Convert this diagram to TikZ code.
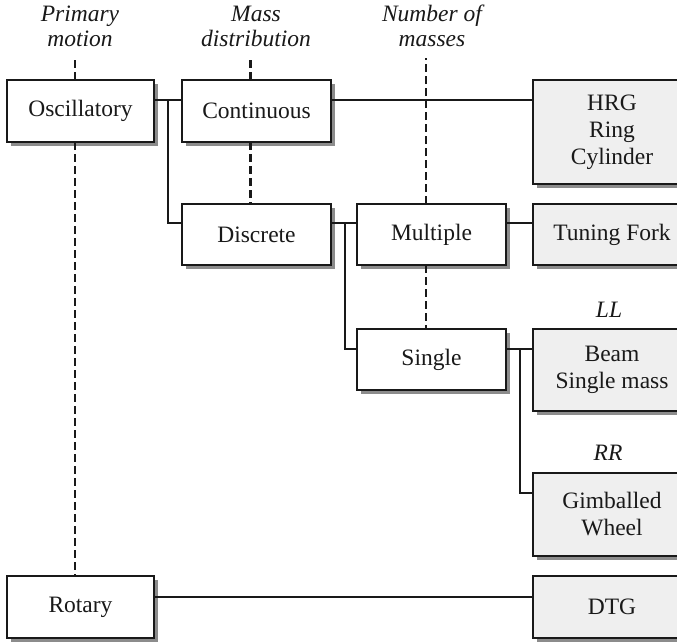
\documentclass[tikz,border=0pt]{standalone}
\usepackage{fontspec}
\setmainfont{Liberation Serif}
\usetikzlibrary{shadows}
\definecolor{boxgray}{RGB}{239,239,239}
\definecolor{shadowgray}{RGB}{140,140,140}
\definecolor{ink}{RGB}{25,25,25}
\begin{document}
\begin{tikzpicture}[x=1pt,y=-1pt,
  box/.style={draw=ink, text=ink, line width=1.4pt, fill=white, anchor=north west, inner sep=0pt, outer sep=0pt,
    align=center, font=\fontsize{23.5}{27}\selectfont,
    general shadow={fill=shadowgray, shadow xshift=4pt, shadow yshift=-4pt}},
  lbox/.style={box, minimum width=147pt, minimum height=62pt},
  mbox/.style={box, minimum width=149pt, minimum height=61pt},
  rbox/.style={box, fill=boxgray, minimum width=158pt},
  conn/.style={draw=ink, line width=1.3pt},
  dl/.style={draw=ink, line width=2.8pt, dash pattern=on 8pt off 4pt},
  title/.style={anchor=base, text=ink, inner sep=0pt, font=\fontsize{23.5}{27}\selectfont\itshape},
]
\useasboundingbox (0,0) rectangle (677,642);
\clip (0,0) rectangle (677,642);

% titles
\node[title] (t1a) at (80,22) {Primary};
\node[title] (t1b) at (80,47) {motion};
\node[title] (t2a) at (256,22) {Mass};
\node[title] (t2b) at (256,47) {distribution};
\node[title] (t3a) at (432,22) {Number of};
\node[title] (t3b) at (432,47) {masses};
\node[title] (ll) at (609,317) {LL};
\node[title] (rr) at (608,460) {RR};

% boxes
\node[lbox] (osc) at (7,80) {Oscillatory};
\node[mbox, minimum height=62pt] (cont) at (182,80) {Continuous};
\node[rbox, minimum height=104pt] (hrg) at (533,80) {HRG\\Ring\\Cylinder};
\node[mbox] (disc) at (182,204) {Discrete};
\node[mbox] (mult) at (357,204) {Multiple};
\node[rbox, minimum height=61pt] (tf) at (533,204) {Tuning Fork};
\node[mbox] (single) at (357,329) {Single};
\node[rbox, minimum height=82pt] (beam) at (533,329) {Beam\\Single mass};
\node[rbox, minimum height=83pt] (gimb) at (533,473) {Gimballed\\Wheel};
\node[lbox] (rot) at (7,576) {Rotary};
\node[rbox, minimum height=62pt] (dtg) at (533,576) {DTG};

% connectors
\draw[conn] ([yshift=-20pt]osc.north east) -- ([yshift=-20pt]cont.north west);
\draw[conn] ([yshift=-20pt]osc.north east) ++(14,0) |- ([yshift=-19pt]disc.north west);
\draw[conn] ([yshift=-20pt]cont.north east) -- ([yshift=-20pt]hrg.north west);
\draw[conn] ([yshift=-19pt]disc.north east) -- ([yshift=-19pt]mult.north west);
\draw[conn] ([yshift=-19pt]disc.north east) ++(14,0) |- ([yshift=-20pt]single.north west);
\draw[conn] ([yshift=-19pt]mult.north east) -- ([yshift=-19pt]tf.north west);
\draw[conn] ([yshift=-20pt]single.north east) -- ([yshift=-20pt]beam.north west);
\draw[conn] ([yshift=-20pt]single.north east) ++(14,0) |- ([yshift=-20pt]gimb.north west);
\draw[conn] ([yshift=-21pt]rot.north east) -- ([yshift=-21pt]dtg.north west);

% dashed category lines
\draw[dl] ([xshift=-5.5pt]osc.north) -- ++(0,-22);
\draw[dl] ([xshift=-5.5pt]osc.south) -- ([xshift=-5.5pt]rot.north);
\draw[dl] ([xshift=-6pt]cont.north) -- ++(0,-22);
\draw[dl] ([xshift=-6pt]cont.south) -- ([xshift=-6pt]disc.north);
\draw[dl] ([xshift=-5.5pt]mult.north) -- ++(0,-146);
\draw[dl] ([xshift=-5.5pt]mult.south) -- ([xshift=-5.5pt]single.north);
\end{tikzpicture}
\end{document}
